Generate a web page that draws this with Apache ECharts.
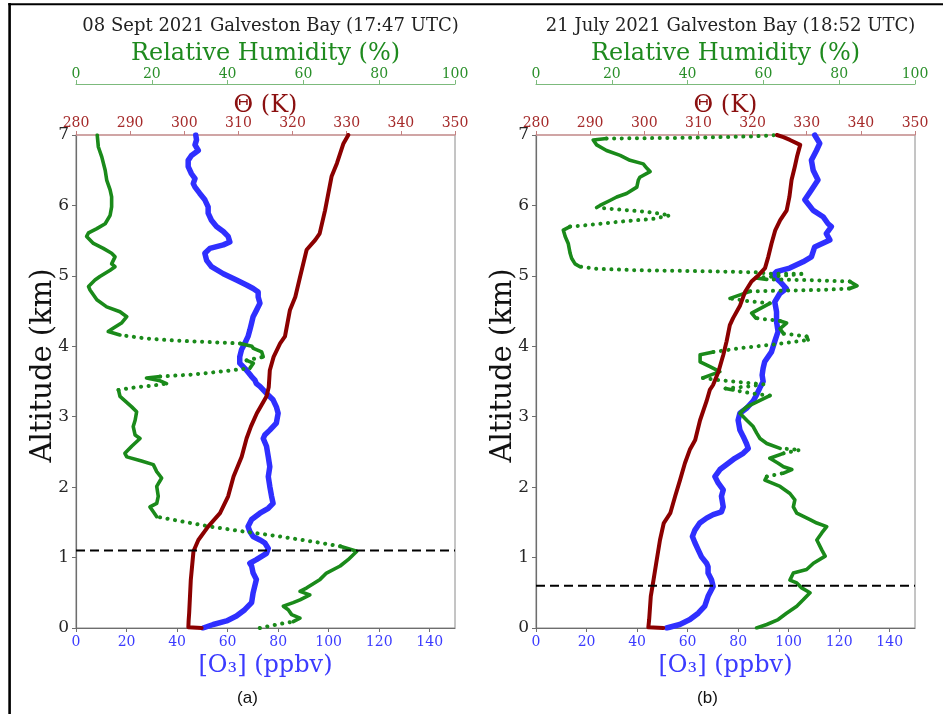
<!DOCTYPE html>
<html>
<head>
<meta charset="utf-8">
<script src="https://cdn.jsdelivr.net/npm/echarts@6/dist/echarts.min.js"></script>
<style>
  html, body { margin: 0; padding: 0; background: #fff; }
  #chart { width: 943px; height: 714px; }
</style>
</head>
<body>
<div id="chart"></div>
<script>
// Ozone-sonde profiles over Galveston Bay: [value, altitude km]

// (a) 08 Sept 2021
const o3A = [[50.3,0],[54.3,0.05],[59.6,0.10],[63.5,0.17],[66.8,0.26],[69.5,0.36],[70.1,0.50],[71.4,0.69],[70.1,0.78],[69.5,0.88],[68.8,0.92],[71.4,0.97],[75.4,1.06],[76.1,1.13],[74.7,1.21],[72.8,1.25],[70.1,1.30],[68.8,1.37],[68.1,1.44],[69.5,1.54],[72.8,1.63],[76.1,1.70],[78.0,1.77],[77.4,1.87],[76.7,2.01],[76.1,2.15],[76.7,2.29],[76.1,2.43],[75.4,2.58],[74.1,2.69],[74.7,2.74],[76.7,2.81],[79.3,2.91],[80.0,3.05],[79.3,3.14],[78.0,3.24],[75.4,3.33],[72.8,3.43],[71.4,3.47],[70.8,3.52],[69.5,3.57],[67.5,3.66],[64.8,3.76],[64.8,3.85],[65.5,3.95],[66.8,4.04],[68.1,4.14],[68.8,4.23],[69.5,4.33],[70.1,4.42],[71.4,4.51],[72.8,4.61],[72.1,4.70],[72.1,4.77],[70.1,4.82],[67.5,4.87],[63.5,4.94],[58.3,5.03],[53.6,5.13],[51.7,5.22],[51.0,5.32],[53.0,5.39],[58.3,5.44],[60.9,5.48],[60.2,5.56],[58.3,5.63],[55.6,5.70],[53.6,5.79],[52.3,5.89],[52.3,5.98],[51.0,6.08],[49.0,6.17],[47.1,6.26],[46.4,6.31],[47.1,6.38],[45.7,6.45],[44.4,6.55],[44.4,6.64],[45.7,6.71],[48.4,6.78],[47.1,6.86],[47.7,6.93],[47.4,7.0]];

const rhA = [[48.5,0],[53.0,0.05],[57.3,0.09],[59.1,0.14],[56.9,0.19],[56.0,0.26],[54.7,0.31],[57.3,0.36],[59.1,0.40],[61.7,0.47],[59.1,0.52],[60.9,0.57],[64.4,0.69],[66.1,0.78],[69.7,0.88],[71.8,0.97],[74.1,1.09],[69.7,1.16],[64.4,1.21],[57.3,1.27],[51.2,1.32],[44.2,1.37],[35.4,1.44],[28.3,1.51],[21.3,1.58],[20.4,1.65],[19.5,1.72],[21.3,1.77],[21.7,1.87],[21.3,2.01],[22.6,2.13],[21.3,2.22],[20.4,2.32],[17.3,2.37],[13.4,2.43],[12.9,2.48],[14.7,2.58],[16.9,2.69],[15.6,2.74],[15.1,2.86],[15.6,2.95],[16.0,3.07],[14.7,3.14],[11.6,3.29],[11.2,3.38],[16.0,3.42],[20.0,3.44],[23.9,3.47],[22.2,3.51],[18.6,3.55],[22.2,3.57],[31.0,3.60],[39.8,3.65],[45.9,3.69],[46.8,3.76],[45.0,3.80],[49.4,3.85],[49.0,3.92],[46.8,3.97],[46.4,4.00],[43.3,4.04],[35.4,4.06],[26.6,4.08],[18.6,4.11],[11.6,4.16],[8.5,4.21],[9.9,4.26],[12.0,4.33],[13.4,4.42],[11.6,4.49],[8.1,4.56],[5.5,4.66],[3.7,4.80],[3.3,4.85],[5.0,4.94],[6.3,4.99],[9.0,5.08],[10.3,5.13],[9.4,5.17],[10.3,5.27],[9.4,5.32],[7.2,5.39],[4.6,5.46],[2.8,5.56],[3.3,5.61],[5.5,5.67],[7.7,5.74],[9.0,5.86],[9.4,5.98],[9.4,6.12],[9.0,6.22],[8.1,6.36],[7.7,6.50],[6.8,6.69],[5.9,6.83],[5.6,7.0]];

const thetaA = [[303.2,0],[300.75,0.01],[300.8,0.10],[300.9,0.21],[301.2,0.68],[301.7,1.09],[302.6,1.25],[304.4,1.44],[306.6,1.63],[308.1,1.87],[309.1,2.15],[310.6,2.43],[311.5,2.69],[312.3,2.86],[313.4,3.05],[315.2,3.29],[315.6,3.42],[315.8,3.66],[316.5,3.85],[317.7,4.04],[318.6,4.14],[319.5,4.51],[320.5,4.70],[321.4,4.99],[322.6,5.37],[324.2,5.51],[325.0,5.60],[326.0,5.93],[327.2,6.41],[328.2,6.60],[329.4,6.88],[330.3,7.0]];

const blhA = 1.1;

// (b) 21 July 2021
const o3B = [[51.7,0],[56.9,0.05],[60.9,0.12],[64.2,0.21],[66.8,0.31],[68.1,0.45],[70.1,0.59],[69.5,0.68],[68.1,0.78],[68.1,0.87],[67.5,0.92],[65.5,1.01],[64.2,1.11],[62.9,1.21],[61.9,1.30],[62.9,1.39],[64.8,1.49],[67.5,1.56],[70.1,1.61],[73.4,1.65],[74.1,1.72],[73.4,1.87],[74.1,1.96],[72.1,2.06],[70.8,2.15],[72.8,2.25],[76.1,2.34],[78.7,2.41],[82.0,2.48],[84.0,2.55],[83.3,2.62],[82.0,2.72],[80.7,2.81],[80.0,2.95],[80.7,3.05],[83.3,3.12],[85.9,3.22],[87.3,3.31],[88.6,3.41],[89.9,3.50],[89.5,3.59],[89.9,3.69],[90.5,3.78],[93.2,3.92],[94.5,4.07],[95.8,4.21],[95.2,4.35],[95.2,4.49],[94.5,4.63],[96.5,4.75],[99.1,4.82],[96.5,4.92],[93.8,5.01],[95.2,5.06],[100.4,5.11],[105.7,5.20],[109.0,5.27],[110.3,5.41],[116.3,5.51],[114.9,5.60],[116.9,5.70],[115.6,5.74],[113.6,5.84],[109.7,5.93],[106.4,6.08],[109.0,6.22],[111.6,6.36],[109.7,6.50],[109.0,6.64],[111.0,6.78],[112.3,6.88],[110.3,7.0]];

const rhB = [[58.2,0],[60.9,0.05],[63.9,0.12],[66.1,0.21],[68.8,0.31],[70.5,0.40],[72.3,0.50],[70.1,0.57],[68.8,0.64],[67.0,0.68],[67.9,0.78],[71.4,0.83],[73.2,0.92],[76.3,1.02],[75.4,1.11],[74.1,1.25],[75.4,1.35],[76.7,1.44],[74.1,1.49],[72.3,1.54],[68.8,1.63],[67.9,1.72],[68.3,1.82],[67.0,1.91],[64.4,2.01],[60.4,2.10],[60.9,2.15],[65.3,2.20],[67.5,2.25],[65.3,2.29],[63.9,2.34],[61.7,2.41],[65.3,2.48],[69.7,2.53],[64.4,2.55],[60.9,2.62],[59.1,2.69],[58.2,2.77],[57.3,2.86],[55.6,2.95],[53.8,3.05],[55.6,3.14],[58.7,3.22],[61.7,3.30],[57.0,3.33],[52.0,3.38],[50.0,3.40],[56.0,3.43],[60.0,3.46],[54.0,3.49],[48.0,3.52],[44.0,3.55],[46.0,3.59],[48.5,3.64],[45.9,3.71],[43.3,3.78],[43.3,3.88],[46.8,3.92],[55.0,3.98],[65.0,4.04],[71.8,4.09],[71.4,4.14],[65.3,4.18],[64.4,4.25],[66.1,4.33],[64.4,4.36],[58.0,4.40],[56.9,4.47],[61.7,4.61],[56.0,4.64],[51.2,4.68],[56.5,4.78],[65.0,4.79],[75.0,4.80],[82.8,4.82],[84.7,4.86],[82.8,4.92],[72.0,4.94],[60.9,4.95],[58.0,4.97],[64.4,5.00],[71.0,5.03],[62.0,5.03],[58.2,5.05],[50.0,5.06],[39.3,5.07],[26.6,5.08],[16.0,5.10],[11.6,5.13],[10.3,5.17],[9.4,5.25],[9.0,5.32],[8.5,5.46],[7.7,5.56],[7.2,5.65],[9.0,5.70],[13.4,5.72],[22.2,5.77],[31.0,5.81],[35.4,5.86],[29.2,5.91],[22.2,5.94],[16.0,5.97],[16.9,6.00],[19.5,6.07],[21.3,6.12],[23.9,6.17],[26.6,6.26],[27.0,6.36],[27.4,6.40],[30.1,6.48],[29.2,6.53],[28.3,6.59],[24.8,6.64],[22.2,6.71],[18.6,6.78],[16.0,6.86],[15.1,6.93],[18.6,6.95],[39.8,6.96],[57.3,6.98],[63.5,7.0]];

const thetaB = [[303.5,0],[300.75,0.01],[300.9,0.12],[301.2,0.45],[301.7,0.68],[302.2,0.92],[302.9,1.25],[303.6,1.49],[304.8,1.63],[305.7,1.87],[306.6,2.10],[307.5,2.34],[308.4,2.53],[309.4,2.67],[310.3,2.95],[311.5,3.22],[312.1,3.38],[312.7,3.45],[313.7,3.64],[314.6,3.88],[315.2,4.07],[315.8,4.30],[316.4,4.40],[317.7,4.58],[318.6,4.77],[319.8,4.92],[321.1,5.01],[322.3,5.11],[322.9,5.27],[323.5,5.46],[324.2,5.65],[325.1,5.79],[326.3,5.93],[326.8,6.12],[327.2,6.36],[327.8,6.55],[328.2,6.69],[328.8,6.86],[326.9,6.93],[325.7,6.97],[324.5,7.0]];

const blhB = 0.6;

// Axis ticks and labels
const o3Ticks = [0, 20, 40, 60, 80, 100, 120, 140];
const rhTicks = [0, 20, 40, 60, 80, 100];
const thetaTicks = [280, 290, 300, 310, 320, 330, 340, 350];
const altTicks = [0, 1, 2, 3, 4, 5, 6, 7];

const titles = ['08 Sept 2021 Galveston Bay (17:47 UTC)', '21 July 2021 Galveston Bay (18:52 UTC)'];
const panelTags = ['(a)', '(b)'];

// Layout
const SERIF = "'DejaVu Serif', serif";
const PLOT_W = 379, PLOT_H = 493, PLOT_TOP = 135;
const plotLefts = [76, 536];
const O3_RANGE = [0, 150], RH_RANGE = [0, 100], TH_RANGE = [280, 350], ALT_RANGE = [0, 7];

const C_O3 = '#2f2fff', C_RH = '#1a8a1a', C_TH = '#8b0000';

// Split a humidity trace into dense (solid) and sparse (dotted) parts:
// where the sonde crosses a sharp gradient the samples spread out into dots.
function splitTrace(pts, xRange) {
  const pxX = PLOT_W / (xRange[1] - xRange[0]);
  const pxY = PLOT_H / (ALT_RANGE[1] - ALT_RANGE[0]);
  const solid = [], dotted = [];
  let lastS = null, lastD = null;
  const GAP = ['-', '-'];
  for (let i = 0; i < pts.length - 1; i++) {
    const a = pts[i], b = pts[i + 1];
    const dx = Math.abs(b[0] - a[0]) * pxX;
    const dy = Math.abs(b[1] - a[1]) * pxY;
    const sparse = dx > 4 * dy && dx > 14;
    const arr = sparse ? dotted : solid;
    const last = sparse ? lastD : lastS;
    if (last !== i) {
      if (arr.length) arr.push(GAP);
      arr.push(a);
    }
    arr.push(b);
    if (sparse) lastD = i + 1; else lastS = i + 1;
  }
  return { solid, dotted };
}

const grids = [], xAxes = [], yAxes = [], series = [], titleCfg = [], graphics = [];

const panels = [
  { o3: o3A, rh: rhA, th: thetaA, blh: blhA },
  { o3: o3B, rh: rhB, th: thetaB, blh: blhB }
];

panels.forEach((p, g) => {
  const left = plotLefts[g];
  grids.push({ left: left, top: PLOT_TOP, width: PLOT_W, height: PLOT_H, show: true,
    borderColor: '#8a8a8a', borderWidth: 1, backgroundColor: 'transparent' });

  const base = g * 3;
  // ozone (bottom)
  xAxes.push({
    gridIndex: g, type: 'value', position: 'bottom', min: O3_RANGE[0], max: O3_RANGE[1], interval: 20,
    axisLine: { show: true, lineStyle: { color: '#6e6e6e', width: 1.2 } },
    axisTick: { show: true, length: 4, customValues: o3Ticks, lineStyle: { color: '#6e6e6e' } },
    axisLabel: { customValues: o3Ticks, color: '#3b3bff', fontFamily: SERIF, fontSize: 14, margin: 7 },
    splitLine: { show: false },
    name: '[O\u2083] (ppbv)', nameLocation: 'middle', nameGap: 23,
    nameTextStyle: { color: '#3b3bff', fontFamily: SERIF, fontSize: 24 }
  });
  // relative humidity (upper top axis)
  xAxes.push({
    gridIndex: g, type: 'value', position: 'top', offset: 51, min: RH_RANGE[0], max: RH_RANGE[1], interval: 20,
    axisLine: { show: true, lineStyle: { color: '#7cba7c', width: 1.2 } },
    axisTick: { show: true, length: 4, lineStyle: { color: '#7cba7c' } },
    axisLabel: { customValues: rhTicks, color: '#2a8f2a', fontFamily: SERIF, fontSize: 14, margin: 3 },
    splitLine: { show: false },
    name: 'Relative Humidity (%)', nameLocation: 'middle', nameGap: 18, nameMoveOverlap: false,
    nameTextStyle: { color: '#1e8a1e', fontFamily: SERIF, fontSize: 24 }
  });
  // potential temperature (lower top axis)
  xAxes.push({
    gridIndex: g, type: 'value', position: 'top', offset: 0, min: TH_RANGE[0], max: TH_RANGE[1], interval: 10,
    axisLine: { show: true, lineStyle: { color: '#d49a9a', width: 1.5 } },
    axisTick: { show: true, length: 4, lineStyle: { color: '#c48080' } },
    axisLabel: { customValues: thetaTicks, color: '#a52a2a', fontFamily: SERIF, fontSize: 14, margin: 5 },
    splitLine: { show: false },
    name: '\u0398 (K)', nameLocation: 'middle', nameGap: 17, nameMoveOverlap: false,
    nameTextStyle: { color: '#8b1010', fontFamily: SERIF, fontSize: 24 }
  });
  yAxes.push({
    gridIndex: g, type: 'value', min: ALT_RANGE[0], max: ALT_RANGE[1], interval: 1,
    axisLine: { show: true, lineStyle: { color: '#6e6e6e', width: 1.2 } },
    axisTick: { show: true, length: 4, lineStyle: { color: '#6e6e6e' } },
    axisLabel: { customValues: altTicks, color: '#262626', fontFamily: SERIF, fontSize: 17, margin: 7 },
    splitLine: { show: false },
    name: 'Altitude (km)', nameLocation: 'middle', nameGap: 18, nameMoveOverlap: false,
    nameTextStyle: { color: '#111', fontFamily: SERIF, fontSize: 29, padding: [0, 0, 0, 32] }
  });

  series.push({
    type: 'line', xAxisIndex: base, yAxisIndex: g, data: p.o3, showSymbol: false, symbol: 'none',
    lineStyle: { color: C_O3, width: 5.5, join: 'round', cap: 'round' }, z: 2, animation: false, silent: true
  });
  const parts = splitTrace(p.rh, RH_RANGE);
  series.push({
    type: 'line', xAxisIndex: base + 1, yAxisIndex: g, data: parts.solid, showSymbol: false, symbol: 'none',
    connectNulls: false,
    lineStyle: { color: C_RH, width: 3.6, join: 'round', cap: 'round' }, z: 3, animation: false, silent: true
  });
  series.push({
    type: 'line', xAxisIndex: base + 1, yAxisIndex: g, data: parts.dotted, showSymbol: false, symbol: 'none',
    connectNulls: false,
    lineStyle: { color: C_RH, width: 4, type: [0.1, 7.5], cap: 'round' }, z: 3, animation: false, silent: true
  });
  series.push({
    type: 'line', xAxisIndex: base + 2, yAxisIndex: g, data: p.th, showSymbol: false, symbol: 'none',
    lineStyle: { color: C_TH, width: 4, join: 'round', cap: 'round' }, z: 4, animation: false, silent: true
  });
  // boundary-layer height
  series.push({
    type: 'line', xAxisIndex: base, yAxisIndex: g, data: [[O3_RANGE[0], p.blh], [O3_RANGE[1], p.blh]],
    showSymbol: false, symbol: 'none',
    lineStyle: { color: '#000', width: 2, type: [9, 5] }, z: 5, animation: false, silent: true
  });

  titleCfg.push({
    text: titles[g], left: left + PLOT_W / 2, top: 12, textAlign: 'center',
    textStyle: { fontFamily: SERIF, fontSize: 18, fontWeight: 'normal', color: '#222' }
  });
  graphics.push({
    type: 'text', x: left + PLOT_W / 2 - 18, y: 698,
    style: { text: panelTags[g], fontFamily: "'Liberation Sans', sans-serif", fontSize: 17, fill: '#111',
      align: 'center', verticalAlign: 'middle' }
  });
});

// outer frame (left and top edges)
graphics.push({ type: 'line', shape: { x1: 9.6, y1: 3, x2: 9.6, y2: 714 }, style: { stroke: '#000', lineWidth: 2.6 } });
graphics.push({ type: 'line', shape: { x1: 8.3, y1: 4.3, x2: 943, y2: 4.3 }, style: { stroke: '#000', lineWidth: 2 } });

const chart = echarts.init(document.getElementById('chart'), null, { renderer: 'canvas' });
chart.setOption({
  backgroundColor: '#fff',
  animation: false,
  title: titleCfg,
  grid: grids,
  xAxis: xAxes,
  yAxis: yAxes,
  series: series,
  graphic: graphics
});
</script>
</body>
</html>
